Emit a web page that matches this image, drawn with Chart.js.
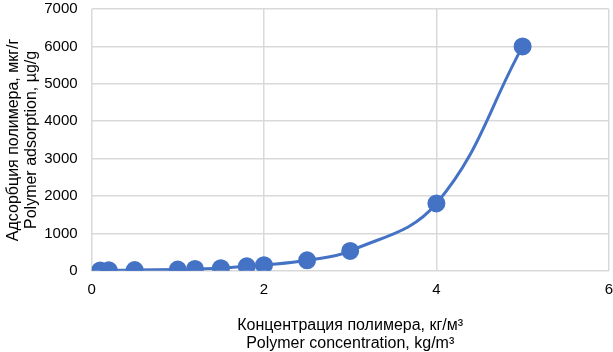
<!DOCTYPE html>
<html>
<head>
<meta charset="utf-8">
<script src="https://cdn.jsdelivr.net/npm/chart.js@4"></script>
<style>
  body { margin: 0; background: #fff; }
  #wrap { width: 613px; height: 352px; }
</style>
</head>
<body>
<div id="wrap"><canvas id="adsorption"></canvas></div>
<script>
// концентрация полимера, кг/м3
const concentration = [0.1, 0.2, 0.5, 1.0, 1.2, 1.5, 1.8, 2.0, 2.5, 3.0, 4.0, 5.0];
// адсорбция, мкг/г
const adsorption = [10, 15, 20, 35, 50, 70, 120, 150, 280, 530, 1800, 6000];

const xTitle = ['Концентрация полимера, кг/м³', 'Polymer concentration, kg/m³'];
const yTitle = ['Адсорбция полимера, мкг/г', 'Polymer adsorption, µg/g'];

const points = concentration.map((c, i) => ({ x: c, y: adsorption[i] }));

const ctx = document.getElementById('adsorption').getContext('2d');
Chart.defaults.font.family = "'Liberation Sans', Arial, sans-serif";
Chart.defaults.color = '#000';

new Chart(ctx, {
    type: 'scatter',
    data: {
        datasets: [{
            data: points,
            showLine: true,
            borderColor: '#4472C4',
            backgroundColor: '#4472C4',
            borderWidth: 3,
            tension: 0.4,
            pointRadius: 7.5,
            pointHoverRadius: 7.5
        }]
    },
    options: {
        responsive: true,
        maintainAspectRatio: false,
        animation: false,
        layout: { autoPadding: false, padding: { top: 3, right: 0, bottom: 0, left: 0 } },
        plugins: {
            legend: { display: false },
            tooltip: { enabled: false }
        },
        scales: {
            x: {
                type: 'linear',
                min: 0,
                max: 6,
                ticks: { stepSize: 2, font: { size: 15 }, padding: 0, callback: v => String(v) },
                // tick marks are invisible, they only give the gap under the plot
                grid: { color: '#d9d9d9', lineWidth: 1.5, drawTicks: true, tickLength: 10, tickColor: 'rgba(0,0,0,0)' },
                border: { color: '#d9d9d9' },
                title: {
                    display: true,
                    text: xTitle,
                    font: { size: 16, lineHeight: 1.1 },
                    padding: { top: 18, bottom: 0 }
                }
            },
            y: {
                min: 0,
                max: 7000,
                ticks: { stepSize: 1000, font: { size: 15 }, padding: 0, callback: v => String(v) },
                grid: { color: '#d9d9d9', lineWidth: 1.5, drawTicks: true, tickLength: 14, tickColor: 'rgba(0,0,0,0)' },
                border: { color: '#d9d9d9' },
                title: {
                    display: true,
                    text: yTitle,
                    font: { size: 16, lineHeight: 1.1 },
                    padding: { top: 5, bottom: 4 }
                }
            }
        }
    }
});
</script>
</body>
</html>
